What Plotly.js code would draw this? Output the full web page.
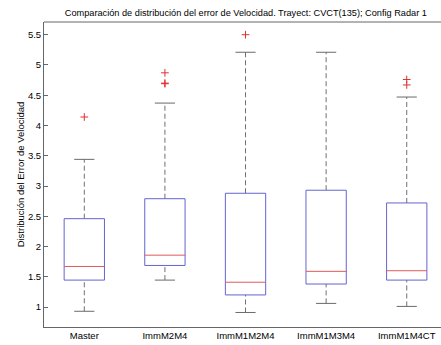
<!DOCTYPE html>
<html>
<head>
<meta charset="utf-8">
<script src="https://cdn.plot.ly/plotly-3.0.1.min.js"></script>
<style>html,body{margin:0;padding:0;background:#fff;}</style>
</head>
<body>
<div id="chart" style="width:441px;height:345px;"></div>
<script>
const categories = ["Master", "ImmM2M4", "ImmM1M2M4", "ImmM1M3M4", "ImmM1M4CT"];
const lowerWhisker = [0.93, 1.445, 0.91, 1.06, 1.01];
const q1 = [1.445, 1.687, 1.20, 1.38, 1.445];
const median = [1.67, 1.857, 1.41, 1.59, 1.60];
const q3 = [2.46, 2.79, 2.88, 2.93, 2.72];
const upperWhisker = [3.44, 4.37, 5.21, 5.21, 4.47];
const outliers = [[4.14], [4.87, 4.70, 4.69], [5.50], [], [4.76, 4.67]];
const yTicks = [1, 1.5, 2, 2.5, 3, 3.5, 4, 4.5, 5, 5.5];

const boxHalf = 0.25, capHalf = 0.125;
const traces = [];
function seg(xs, ys, color, dash, width) {
  traces.push({type: 'scatter', mode: 'lines', x: xs, y: ys, hoverinfo: 'skip',
    showlegend: false, line: {color: color, dash: dash || 'solid', width: width || 1}});
}
categories.forEach((c, i) => {
  const x = i + 1;
  seg([x, x], [q3[i], upperWhisker[i]], '#707070', '5px,3px');
  seg([x, x], [lowerWhisker[i], q1[i]], '#707070', '5px,3px');
  seg([x - capHalf, x + capHalf], [upperWhisker[i], upperWhisker[i]], '#6a6a6a');
  seg([x - capHalf, x + capHalf], [lowerWhisker[i], lowerWhisker[i]], '#6a6a6a');
  seg([x - boxHalf, x + boxHalf, x + boxHalf, x - boxHalf, x - boxHalf],
      [q1[i], q1[i], q3[i], q3[i], q1[i]], '#6464d2');
  seg([x - boxHalf, x + boxHalf], [median[i], median[i]], '#e05a5a');
  if (outliers[i].length) {
    traces.push({type: 'scatter', mode: 'markers', x: outliers[i].map(() => x), y: outliers[i],
      showlegend: false, hoverinfo: 'skip',
      marker: {symbol: 'cross-thin', size: 5.5, line: {color: '#e03030', width: 1}}});
  }
});

const font = {family: 'Liberation Sans, Arial, sans-serif', size: 9.5, color: '#000'};
const layout = {
  width: 441, height: 345,
  margin: {l: 44, r: 0, t: 22, b: 18},
  paper_bgcolor: '#fff', plot_bgcolor: '#fff',
  font: font,
  showlegend: false,
  title: {text: 'Comparación de distribución del error de Velocidad. Trayect: CVCT(135); Config Radar 1',
    font: {family: font.family, size: 9.2, color: '#000'}, x: 0.5575, xanchor: 'center', y: 0.962, yanchor: 'middle'},
  xaxis: {
    range: [0.5, 5.425], tickmode: 'array', tickvals: categories.map((c, i) => i + 1), ticktext: categories,
    showgrid: false, zeroline: false, showline: true, linecolor: '#666', linewidth: 1,
    ticks: '', tickfont: font, fixedrange: true
  },
  yaxis: {
    range: [0.67, 5.71], tickmode: 'array', tickvals: yTicks, ticktext: yTicks.map(String),
    showgrid: false, zeroline: false, showline: true, linecolor: '#666', linewidth: 1,
    ticks: 'inside', ticklen: 4, tickcolor: '#666', tickfont: font,
    title: {text: 'Distribución del Error de Velocidad', font: font, standoff: 1}
  },
  shapes: [{type: 'line', xref: 'paper', yref: 'paper', x0: 0, x1: 1, y0: 1, y1: 1,
    line: {color: '#666', width: 1}}]
};
Plotly.newPlot('chart', traces, layout, {staticPlot: true, displayModeBar: false});
</script>
</body>
</html>
